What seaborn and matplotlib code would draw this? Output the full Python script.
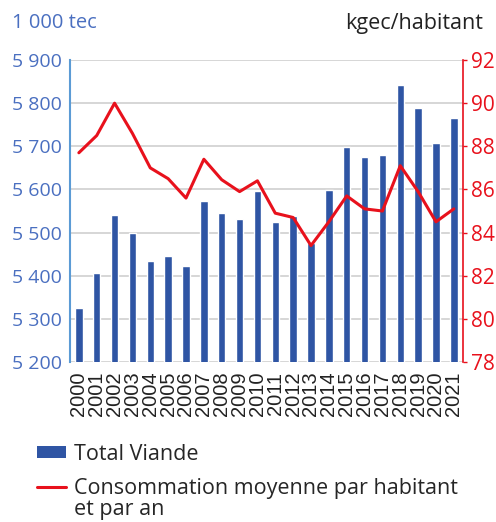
import matplotlib
matplotlib.use("Agg")
import matplotlib.pyplot as plt
from matplotlib.lines import Line2D
from matplotlib.patches import Patch
from matplotlib.ticker import FuncFormatter
import numpy as np
import pandas as pd
import seaborn as sns

years = [str(y) for y in range(2000, 2022)]
total_viande = [5326, 5406, 5541, 5499, 5435, 5445, 5422, 5573, 5545, 5532, 5596,
                5525, 5538, 5476, 5598, 5698, 5675, 5679, 5842, 5788, 5707, 5766]
conso_hab = [87.7, 88.5, 90.0, 88.6, 87.0, 86.5, 85.6, 87.4, 86.45, 85.9, 86.4,
             84.9, 84.7, 83.4, 84.5, 85.7, 85.1, 85.0, 87.1, 85.9, 84.5, 85.1]

BLUE_BAR = "#2f55a4"
BLUE_TXT = "#4a6fc0"
RED = "#e8111c"

sns.set_theme(style="white")
plt.rcParams["font.family"] = ["Open Sans", "DejaVu Sans"]

df = pd.DataFrame({"year": years, "viande": total_viande, "conso": conso_hab})
df["pos"] = np.arange(len(df))

fig = plt.figure(figsize=(4.96, 5.22), dpi=100)
ax = fig.add_axes([0.141, 0.3065, 0.792, 0.5785])

sns.barplot(data=df, x="year", y="viande", color=BLUE_BAR, width=0.42,
            saturation=1, ax=ax)
ax.set_ylim(5200, 5900)
ax.set_yticks(range(5200, 5901, 100))
ax.yaxis.set_major_formatter(FuncFormatter(lambda v, p: f"{int(v):,}".replace(",", " ")))
ax.set_xlim(-0.5, len(years) - 0.5)
ax.grid(axis="y", color="#d0d0d0", linewidth=1.2)
ax.set_axisbelow(True)
ax.set_xlabel("")
ax.set_ylabel("")
ax.tick_params(axis="y", colors=BLUE_TXT, labelsize=14, length=0, pad=6)
ax.tick_params(axis="x", length=0, pad=7)
for lab in ax.get_xticklabels():
    lab.set_rotation(90)
    lab.set_fontsize(14.5)
    lab.set_family(["Liberation Sans", "DejaVu Sans"])
    lab.set_color("#222222")
for s in ["top", "right", "bottom"]:
    ax.spines[s].set_visible(False)
ax.spines["left"].set_color("#5b9bd5")
ax.spines["left"].set_linewidth(1.5)

ax2 = ax.twinx()
sns.lineplot(data=df, x="pos", y="conso", color=RED, linewidth=2.2, ax=ax2)
ax2.set_ylim(78, 92)
ax2.set_yticks(range(78, 93, 2))
ax2.set_xlim(-0.5, len(years) - 0.5)
ax2.set_xlabel("")
ax2.set_ylabel("")
ax2.grid(False)
ax2.tick_params(axis="y", colors=RED, labelsize=15, length=3, width=1, pad=3)
for s in ["top", "left", "bottom"]:
    ax2.spines[s].set_visible(False)
ax2.spines["right"].set_color(RED)
ax2.spines["right"].set_linewidth(1.2)

fig.text(0.024, 0.955, "1 000 tec", color=BLUE_TXT, fontsize=14.5, va="center")
fig.text(0.974, 0.955, "kgec/habitant", color="#222222", fontsize=15.5,
         va="center", ha="right")

# legend: the red entry wraps onto a second line placed under its label
handles = [Patch(facecolor=BLUE_BAR, edgecolor="none"),
           Line2D([0], [0], color=RED, linewidth=2.2)]
labels = ["Total Viande", "Consommation moyenne par habitant"]
leg = fig.legend(handles, labels, loc="upper left", bbox_to_anchor=(0.075, 0.150),
                 frameon=False, handlelength=1.35, handleheight=0.45,
                 handletextpad=0.35, labelspacing=0.6, borderaxespad=0, borderpad=0,
                 prop={"size": 15.5, "family": ["Open Sans", "DejaVu Sans"]})

fig.canvas.draw()
bb = leg.get_texts()[1].get_window_extent().transformed(fig.transFigure.inverted())
fig.text(bb.x0, bb.y0, "et par an", fontsize=15.5, va="top", ha="left",
         color=leg.get_texts()[1].get_color())

fig.savefig("out.png", dpi=100)
